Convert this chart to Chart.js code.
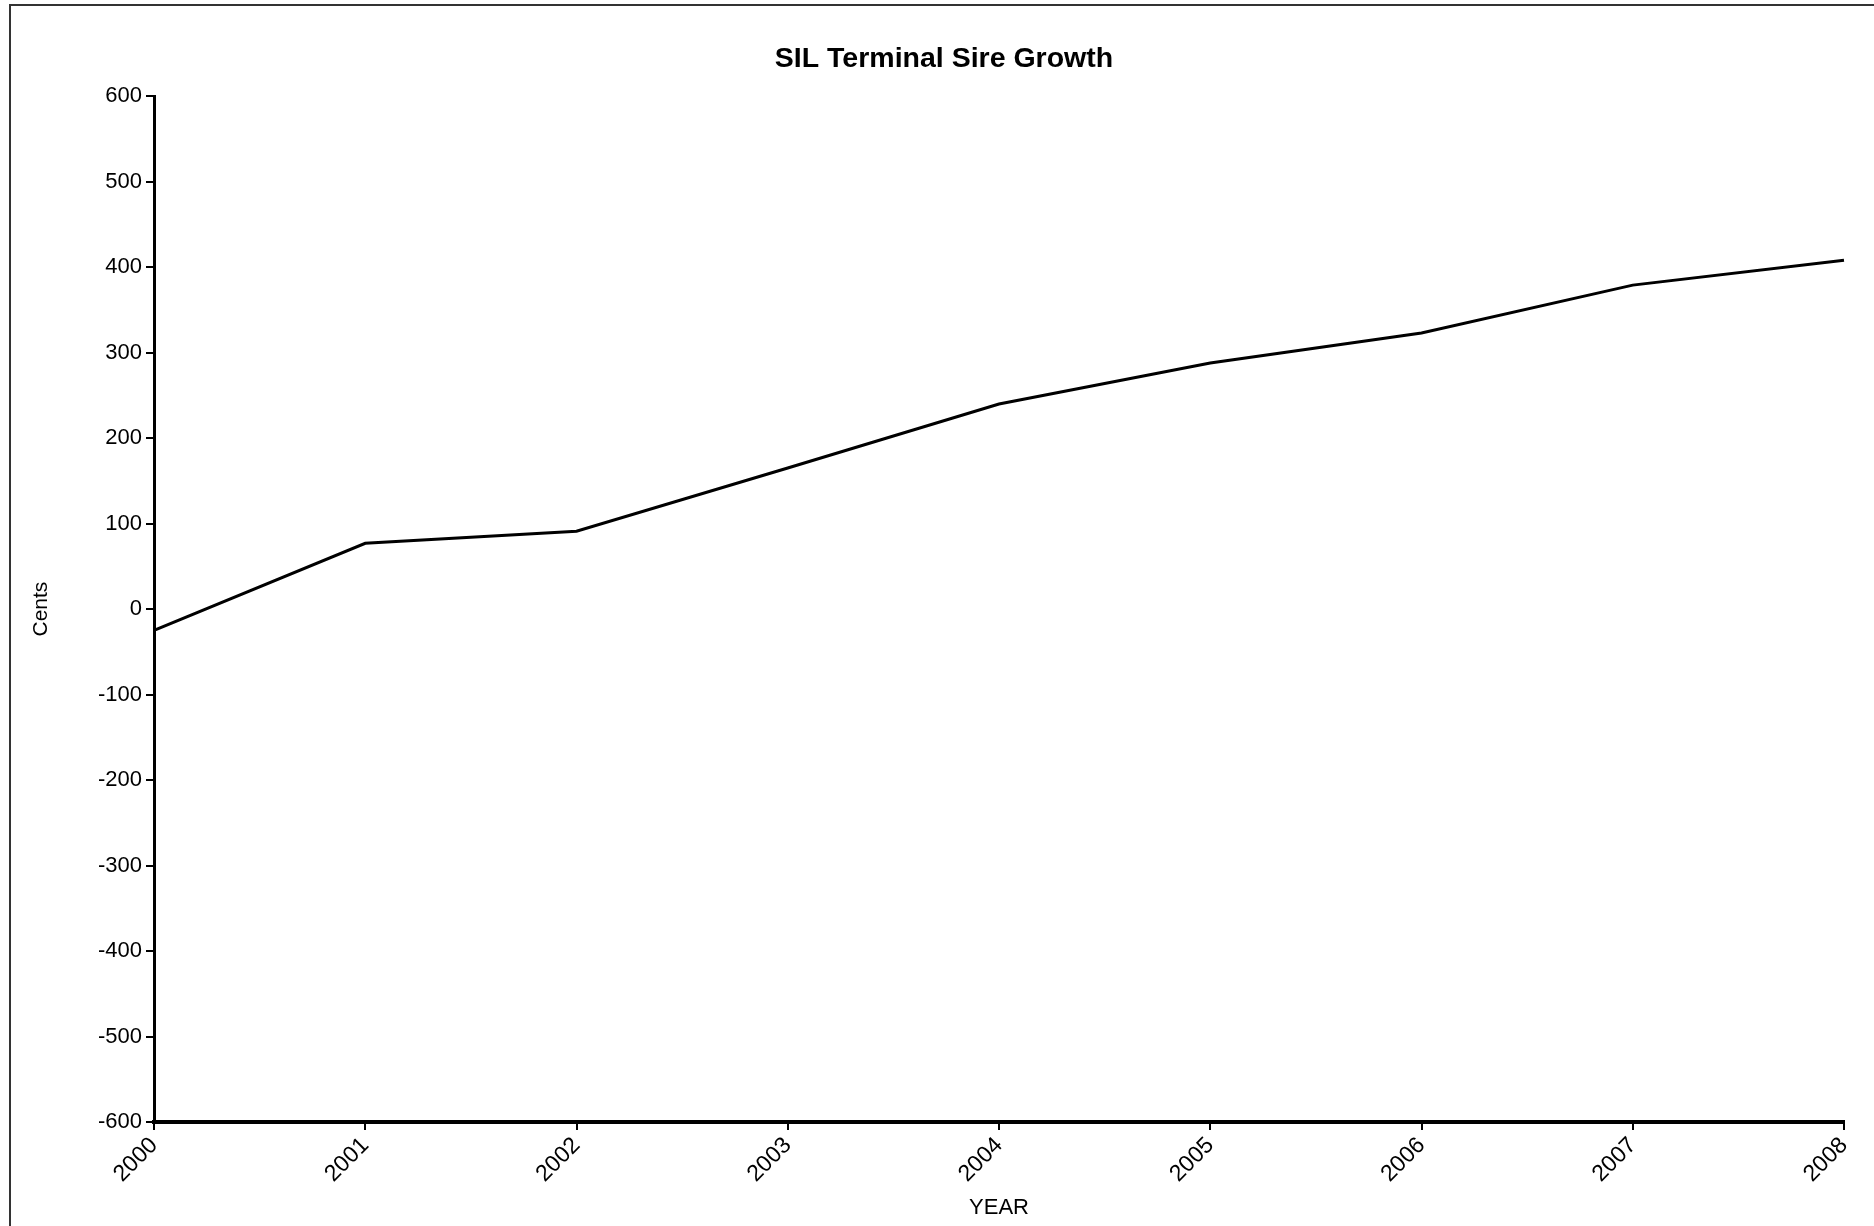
<!DOCTYPE html>
<html>
<head>
<meta charset="utf-8">
<script src="https://cdn.jsdelivr.net/npm/chart.js@4"></script>
<style>
  html, body { margin: 0; padding: 0; background: #fff; overflow: hidden; }
  #frame {
    position: absolute; left: 9px; top: 4px; width: 2000px; height: 1400px;
    border-left: 2px solid #333; border-top: 2px solid #333;
  }
  #wrap { position: absolute; left: 0; top: 0; width: 1874px; height: 1226px; }
</style>
</head>
<body>
<div id="frame"></div>
<div id="wrap"><canvas id="chart"></canvas></div>
<script>
const years = ['2000', '2001', '2002', '2003', '2004', '2005', '2006', '2007', '2008'];
const cents = [-25, 77, 91, 165, 240, 288, 323, 379, 408];
const yTicks = [-600, -500, -400, -300, -200, -100, 0, 100, 200, 300, 400, 500, 600];

const FONT = 'Liberation Sans, Arial, Helvetica, sans-serif';
Chart.defaults.font.family = FONT;
Chart.defaults.color = '#000';

var ctx = document.getElementById('chart').getContext('2d');
var chart = new Chart(ctx, {
    type: 'line',
    data: {
        labels: years,
        datasets: [{
            label: 'Cents',
            data: cents,
            borderColor: '#000',
            borderWidth: 3,
            pointRadius: 0,
            fill: false,
            tension: 0
        }]
    },
    options: {
        responsive: true,
        maintainAspectRatio: false,
        animation: false,
        devicePixelRatio: 1,
        // left padding keeps the title centred where the original has it
        layout: { padding: { left: 44, right: 30, top: 0, bottom: 0 } },
        plugins: {
            legend: { display: false },
            tooltip: { enabled: false },
            title: {
                display: true,
                text: 'SIL Terminal Sire Growth',
                color: '#000',
                font: { size: 28.5, weight: 'bold', family: FONT, lineHeight: 1.2 },
                padding: { top: 42, bottom: 20 }
            }
        },
        scales: {
            x: {
                offset: false,
                grid: { drawOnChartArea: false, drawTicks: true, tickLength: 8, color: '#000', lineWidth: 2 },
                border: { display: true, color: '#000', width: 4 },
                ticks: {
                    maxRotation: 45, minRotation: 45, padding: 2,
                    font: { size: 23, family: FONT }, color: '#000', autoSkip: false
                },
                title: {
                    display: true, text: 'YEAR', color: '#000',
                    font: { size: 22, family: FONT, lineHeight: 1.2 },
                    padding: { top: 4, bottom: 5 }
                },
                afterFit: function (scale) { scale.height = 104; }
            },
            y: {
                min: -600, max: 600,
                afterBuildTicks: function (scale) {
                    scale.ticks = yTicks.map(function (v) { return { value: v }; });
                },
                grid: { drawOnChartArea: false, drawTicks: true, tickLength: 8, color: '#000', lineWidth: 2 },
                border: { display: true, color: '#000', width: 3 },
                ticks: { padding: 4, font: { size: 22, family: FONT }, color: '#000' },
                title: {
                    display: true, text: 'Cents', color: '#000',
                    font: { size: 21, family: FONT, lineHeight: 1.2 },
                    padding: { top: -15, bottom: 0 }
                },
                afterFit: function (scale) { scale.width = 110; }
            }
        }
    }
});
</script>
</body>
</html>
